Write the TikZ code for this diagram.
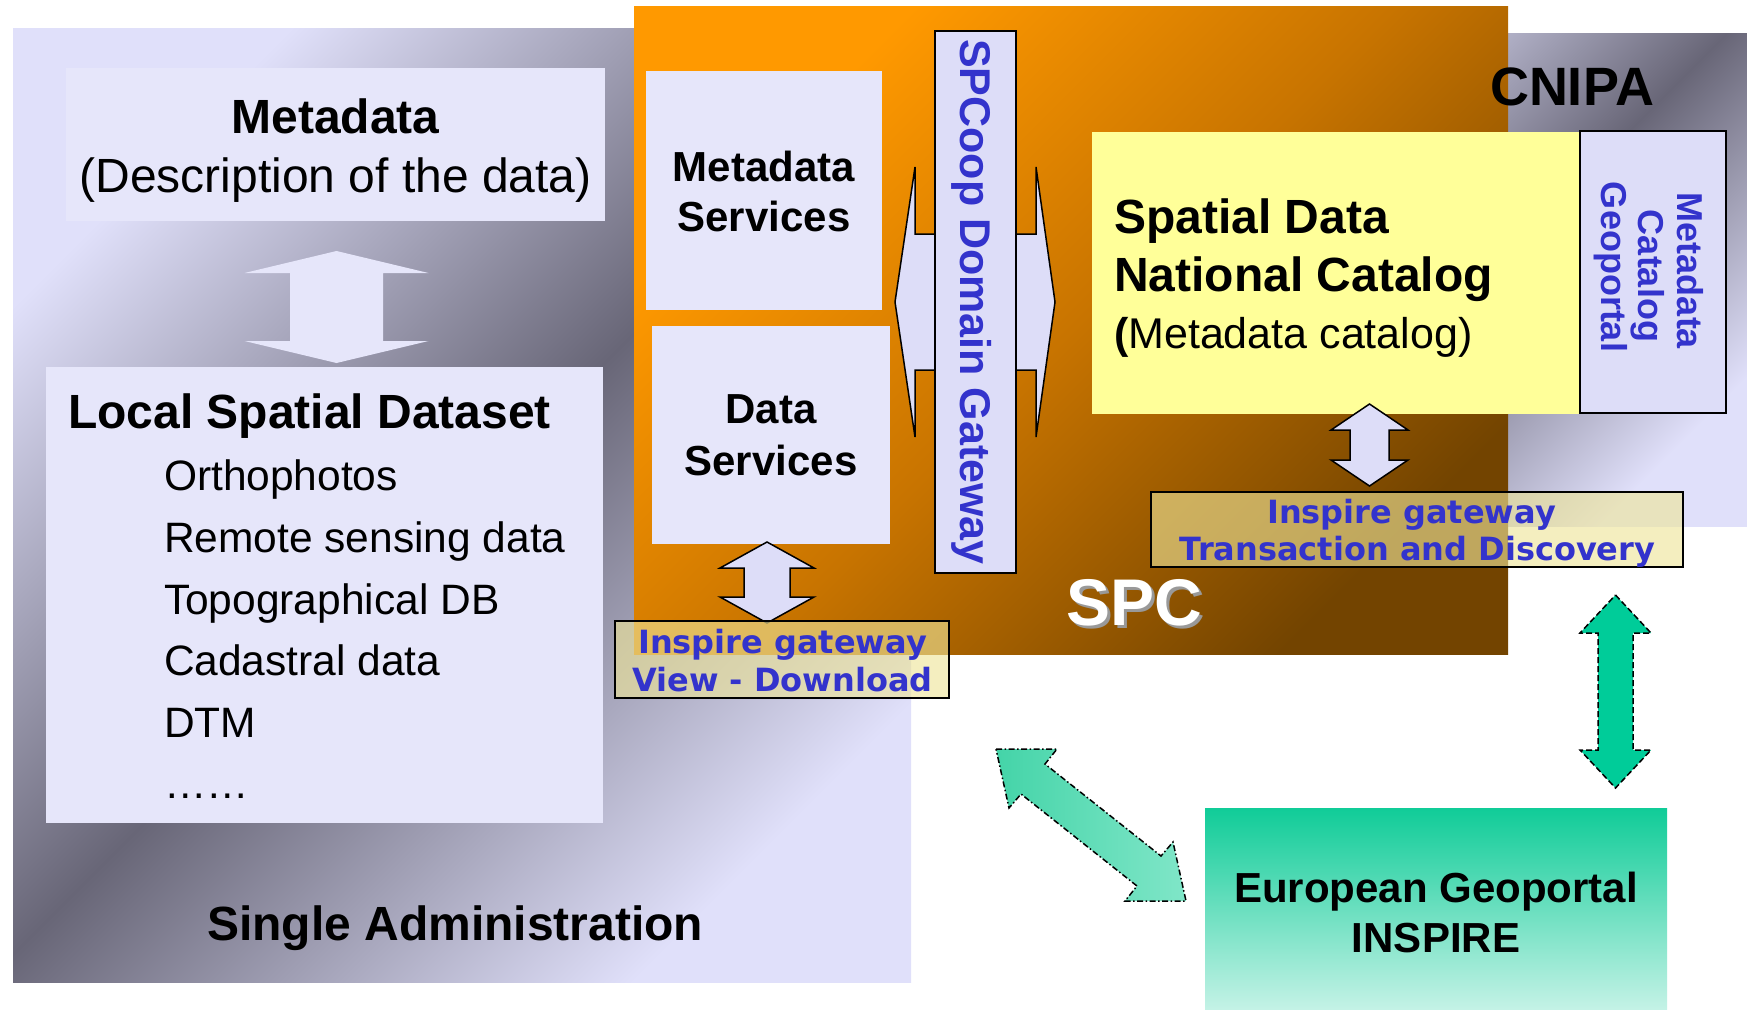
\documentclass[tikz,border=0pt]{standalone}
\usepackage{fontspec}
\setmainfont{Liberation Sans}
\newfontfamily\verdfont{DejaVu Sans}
\definecolor{lav}{HTML}{E6E6FA}
\definecolor{lavb}{HTML}{DDDDF8}
\definecolor{bluetxt}{HTML}{3333CC}
\definecolor{yel}{HTML}{FFFF99}
\definecolor{grn}{HTML}{00CC99}
\definecolor{grnTop}{HTML}{10CC98}
\definecolor{grnBot}{HTML}{C4F2E6}
\definecolor{grnA}{HTML}{44D4A8}
\definecolor{grnB}{HTML}{80E6C8}
\definecolor{admL}{HTML}{E0E0FA}
\definecolor{admD}{HTML}{686677}
\definecolor{orA}{HTML}{FF9900}
\definecolor{orM}{HTML}{C87400}
\definecolor{orB}{HTML}{734400}
\definecolor{gwfill}{HTML}{EEE598}
\pgfdeclarehorizontalshading{adminshade}{100bp}{color(0bp)=(admL); color(26bp)=(admL); color(50bp)=(admD); color(74bp)=(admL); color(100bp)=(admL)}
\pgfdeclarehorizontalshading{orangeshade}{100bp}{color(0bp)=(orA); color(31bp)=(orA); color(50bp)=(orM); color(71bp)=(orB); color(100bp)=(orB)}
% vertical double block arrow: style, cx, ytop, ybot, head half width, shaft half width, head length
\newcommand\VDArrow[7]{%
  \path[#1] (#2,#3) -- ({#2+#5},{#3+#7}) -- ({#2+#6},{#3+#7}) -- ({#2+#6},{#4-#7})
    -- ({#2+#5},{#4-#7}) -- (#2,#4) -- ({#2-#5},{#4-#7}) -- ({#2-#6},{#4-#7})
    -- ({#2-#6},{#3+#7}) -- ({#2-#5},{#3+#7}) -- cycle;}
\begin{document}
\begin{tikzpicture}[x=1pt,y=-1pt,
  box/.style={inner sep=0pt, outer sep=0pt, anchor=north west},
  plainbox/.style={box, fill=lav},
  edgebox/.style={box, fill=lavb, draw=black, line width=1.5pt},
  gwbox/.style={box, fill=gwfill, fill opacity=0.62, draw=black, draw opacity=1, line width=2pt},
  lbl/.style={inner sep=0pt, outer sep=0pt, text=black},
  fbig/.style={font=\fontsize{48pt}{56pt}\selectfont\bfseries},
  fbigr/.style={font=\fontsize{48pt}{56pt}\selectfont},
  flist/.style={font=\fontsize{42.5pt}{50pt}\selectfont},
  fserv/.style={font=\fontsize{42pt}{50pt}\selectfont\bfseries},
  fgw/.style={font=\verdfont\fontsize{32pt}{38pt}\selectfont\bfseries, text=bluetxt},
  blockarrow/.style={fill=lavb, draw=black, line width=1.5pt, line join=miter},
  greenarrow/.style={fill=grn, draw=black, line width=1.5pt, dash pattern=on 6pt off 3pt},
]
\useasboundingbox (0,0) rectangle (1747,1009);
\fill[white] (0,0) rectangle (1747,1009);

% backgrounds (diagonal gradients on clipped squares)
\begin{scope}
  \clip (13,28) rectangle (911,982);
  \shade[shading=adminshade, shading angle=-45] (-18,25) rectangle (942,985);
\end{scope}
\begin{scope}
  \clip (1214,33) rectangle (1747,526);
  \shade[shading=adminshade, shading angle=-45] (1210.5,9.5) rectangle (1750.5,549.5);
\end{scope}
\begin{scope}
  \clip (634,6) rectangle (1508,654);
  \shade[shading=orangeshade, shading angle=-45] (621,-120) rectangle (1521,780);
\end{scope}

% Single Administration
\node[plainbox, minimum width=539pt, minimum height=153pt] (meta) at (66,68) {};
\node[lbl, fbig, anchor=base] (metaT1) at (335.5,133) {Metadata};
\node[lbl, fbigr, anchor=base] (metaT2) at (335.5,192) {(Description of the data)};
\VDArrow{fill=lav}{336.5}{251}{363}{92}{46.5}{22}
\node[plainbox, minimum width=557pt, minimum height=456pt] (lsd) at (46,367) {};
\node[lbl, fbig, anchor=base west] (lsdT) at (68,428) {Local Spatial Dataset};
\node[lbl, flist, anchor=base west] (l1) at (164,490) {Orthophotos};
\node[lbl, flist, anchor=base west] (l2) at (164,552) {Remote sensing data};
\node[lbl, flist, anchor=base west] (l3) at (164,614) {Topographical DB};
\node[lbl, flist, anchor=base west] (l4) at (164,675) {Cadastral data};
\node[lbl, flist, anchor=base west] (l5) at (164,737) {DTM};
\node[lbl, flist, anchor=base west] (l6) at (164,798) {……};
\node[lbl, fbig, anchor=base west] (adm) at (207,940) {Single Administration};

% SPC services
\node[plainbox, minimum width=236pt, minimum height=239pt] (msrv) at (646,71) {};
\node[lbl, fserv, anchor=base] (msrvT1) at (764,181) {Metadata};
\node[lbl, fserv, anchor=base] (msrvT2) at (764,231) {Services};
\node[plainbox, minimum width=238pt, minimum height=218pt] (dsrv) at (652,326) {};
\node[lbl, fserv, anchor=base] (dsrvT1) at (771,423) {Data};
\node[lbl, fserv, anchor=base] (dsrvT2) at (771,475) {Services};

% SPCoop gateway
\path[blockarrow] (895,302) -- (915,167) -- (915,234) -- (1036,234) -- (1036,167) -- (1055,302)
  -- (1036,437) -- (1036,370) -- (915,370) -- (915,437) -- cycle;
\node[edgebox, minimum width=81pt, minimum height=542pt] (spcoop) at (935,31) {};
\node[lbl, font=\fontsize{43pt}{50pt}\selectfont\bfseries, text=bluetxt, rotate=-90, anchor=base] (spcoopT) at (960,302) {SPCoop Domain Gateway};

% catalog
\node[box, fill=yel, minimum width=488pt, minimum height=282pt] (cat) at (1092,132) {};
\node[lbl, fbig, anchor=base west] (catT1) at (1114,233) {Spatial Data};
\node[lbl, fbig, anchor=base west] (catT2) at (1114,291) {National Catalog};
\node[lbl, font=\fontsize{43pt}{50pt}\selectfont, anchor=base west] (catT3) at (1114,348) {\textbf{(}Metadata catalog)};
\node[edgebox, minimum width=146pt, minimum height=282pt] (mcg) at (1580,131) {};
\node[lbl, font=\fontsize{36pt}{40pt}\selectfont\bfseries, text=bluetxt, rotate=-90, anchor=base] (mcgT1) at (1677,271) {Metadata};
\node[lbl, font=\fontsize{36pt}{40pt}\selectfont\bfseries, text=bluetxt, rotate=-90, anchor=base] (mcgT2) at (1638,276) {Catalog};
\node[lbl, font=\fontsize{36pt}{40pt}\selectfont\bfseries, text=bluetxt, rotate=-90, anchor=base] (mcgT3) at (1601,267) {Geoportal};
\node[lbl, font=\fontsize{54pt}{60pt}\selectfont\bfseries, anchor=base west] (cnipa) at (1490,105) {CNIPA};

% SPC label
\node[lbl, font=\fontsize{66pt}{72pt}\selectfont\bfseries, text=black!40, anchor=base west] (spcS) at (1069,628) {SPC};
\node[lbl, font=\fontsize{66pt}{72pt}\selectfont\bfseries, text=white, anchor=base west] (spc) at (1066,625) {SPC};

% small arrows and gateways
\VDArrow{blockarrow}{767}{542}{623}{47}{23}{26}
\node[gwbox, minimum width=334pt, minimum height=77pt] (gwvd) at (615,621) {};
\node[lbl, fgw, anchor=base] (gwvdT1) at (782.5,653) {Inspire gateway};
\node[lbl, fgw, anchor=base] (gwvdT2) at (782.5,691) {View - Download};

\VDArrow{blockarrow}{1369.5}{404}{486}{38.5}{19.5}{26}
\node[gwbox, minimum width=532pt, minimum height=75pt] (gwtd) at (1151,492) {};
\node[lbl, fgw, anchor=base] (gwtdT1) at (1411.5,523) {Inspire gateway};
\node[lbl, fgw, anchor=base] (gwtdT2) at (1417.5,560) {Transaction and Discovery};

% European geoportal
\node[box, top color=grnTop, bottom color=grnBot, minimum width=462pt, minimum height=201pt] (eu) at (1205,808) {};
\node[lbl, fserv, anchor=base] (euT1) at (1436,902) {European Geoportal};
\node[lbl, fserv, anchor=base] (euT2) at (1436,952) {INSPIRE};

\VDArrow{greenarrow}{1615.5}{595}{788}{35.5}{17.5}{38}
\path[left color=grnA, right color=grnB, draw=black, line width=1.5pt, dash pattern=on 6pt off 2.5pt on 1.5pt off 2.5pt]
  (996,749) -- (1057,749) -- (1045,764) -- (1161,856) -- (1173,842) -- (1186,901)
  -- (1125,901) -- (1137,886) -- (1021,794) -- (1009,808) -- cycle;
\end{tikzpicture}
\end{document}
